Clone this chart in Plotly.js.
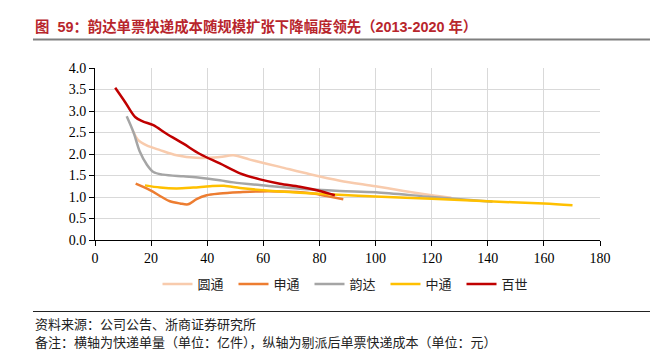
<!DOCTYPE html>
<html>
<head>
<meta charset="utf-8">
<script src="https://cdn.plot.ly/plotly-3.0.1.min.js"></script>
<style>html,body{margin:0;padding:0;background:#fff;}#chart{width:656px;height:351px;}</style>
</head>
<body>
<div id="chart"></div>
<script>
// 圆通
const ytoX = [13.4, 15.4, 18.4, 23.2, 29.1, 36.2, 44.5, 49.3, 55.2, 65.9, 76.6, 87.3, 100, 110, 120, 127];
const ytoY = [2.55, 2.32, 2.2, 2.09, 1.97, 1.91, 1.93, 1.97, 1.87, 1.70, 1.53, 1.38, 1.25, 1.14, 1.04, 0.98];
// 申通
const stoX = [14.5, 19.6, 23.8, 26.7, 30.3, 33.2, 36.2, 39.8, 44.5, 51.7, 58.8, 69.5, 77.8, 82.6, 88.5];
const stoY = [1.31, 1.16, 1.0, 0.9, 0.85, 0.83, 0.95, 1.04, 1.08, 1.11, 1.13, 1.12, 1.08, 1.02, 0.95];
// 韵达
const ydX = [11.3, 13.7, 16, 18.4, 20.8, 24.3, 31.5, 37.4, 44.5, 49.3, 61.2, 73, 87.3, 100, 120, 141.7];
const ydY = [2.88, 2.51, 2.05, 1.76, 1.58, 1.52, 1.48, 1.45, 1.39, 1.34, 1.26, 1.19, 1.14, 1.11, 1.0, 0.89];
// 中通
const ztoX = [17.8, 23.2, 29.1, 35, 41, 46, 51.7, 61.2, 73, 84.9, 100, 120, 140, 160, 170.2];
const ztoY = [1.27, 1.22, 1.2, 1.22, 1.25, 1.26, 1.21, 1.15, 1.1, 1.06, 1.01, 0.96, 0.9, 0.85, 0.81];
// 百世
const bsX = [7.2, 10.7, 14.3, 17, 20.8, 25.5, 31.5, 37.4, 44.5, 51.7, 58.8, 65.9, 73, 80.2, 85.5];
const bsY = [3.54, 3.21, 2.86, 2.76, 2.67, 2.47, 2.24, 2.0, 1.78, 1.55, 1.41, 1.31, 1.24, 1.14, 1.04];

const seriesNames = ['圆通', '申通', '韵达', '中通', '百世'];
const xTicks = [0, 20, 40, 60, 80, 100, 120, 140, 160, 180];
const yTicks = [0, 0.5, 1.0, 1.5, 2.0, 2.5, 3.0, 3.5, 4.0];

const titleText = '图  59：韵达单票快递成本随规模扩张下降幅度领先（2013-2020 年）';
const sourceText = '资料来源：公司公告、浙商证券研究所';
const noteText = '备注：横轴为快递单量（单位：亿件），纵轴为剔派后单票快递成本（单位：元）';

const colors = ['#F8CBAD', '#ED7D31', '#A5A5A5', '#FFC000', '#C00000'];
const xs = [ytoX, stoX, ydX, ztoX, bsX];
const ys = [ytoY, stoY, ydY, ztoY, bsY];

const traces = seriesNames.map((n, i) => ({
  type: 'scatter', mode: 'lines', name: n, x: xs[i], y: ys[i],
  line: {color: colors[i], width: 2.5, shape: 'spline', smoothing: 0.9}
}));

const layout = {
  width: 656, height: 351,
  margin: {l: 95, r: 56, t: 68, b: 111},
  paper_bgcolor: '#fff', plot_bgcolor: '#fff',
  showlegend: true,
  legend: {orientation: 'h', x: 0.5, xanchor: 'center', y: -0.256, yanchor: 'middle',
    font: {family: 'Noto Sans CJK SC', size: 13, color: '#222'}, itemwidth: 30,
    entrywidth: 31, entrywidthmode: 'pixels', bgcolor: 'rgba(0,0,0,0)'},
  xaxis: {range: [0, 180], tickvals: xTicks, ticktext: xTicks.map(String), showgrid: true, gridcolor: '#d9d9d9', gridwidth: 1,
    zeroline: false, showline: true, linecolor: '#000', linewidth: 1, ticks: 'outside', ticklen: 5, tickcolor: '#000',
    tickfont: {family: 'Liberation Serif', size: 14, color: '#000'}, fixedrange: true},
  yaxis: {range: [0, 4], tickvals: yTicks, ticktext: yTicks.map(v => v.toFixed(1)), showgrid: true, gridcolor: '#d9d9d9', gridwidth: 1,
    zeroline: false, showline: true, linecolor: '#000', linewidth: 1, ticks: 'outside', ticklen: 5, tickcolor: '#000',
    tickfont: {family: 'Liberation Serif', size: 14, color: '#000'}, fixedrange: true},
  shapes: [
    {type: 'line', xref: 'paper', yref: 'paper', x0: -0.1228, x1: 1.099, y0: 1.166, y1: 1.166, line: {color: '#7f7f7f', width: 2}},
    {type: 'line', xref: 'paper', yref: 'paper', x0: -0.1228, x1: 1.099, y0: -0.4157, y1: -0.4157, line: {color: '#222', width: 1}}
  ],
  annotations: [
    {xref: 'paper', yref: 'paper', x: -0.1228, y: 1.244, xanchor: 'left', yanchor: 'middle', showarrow: false,
      text: '<b>' + titleText + '</b>', font: {family: 'Liberation Sans, Noto Sans CJK SC', size: 14.4, color: '#B8262C'}},
    {xref: 'paper', yref: 'paper', x: -0.1228, y: -0.4826, xanchor: 'left', yanchor: 'middle', showarrow: false,
      text: sourceText, font: {family: 'Noto Sans CJK SC', size: 13, color: '#222'}},
    {xref: 'paper', yref: 'paper', x: -0.1228, y: -0.59, xanchor: 'left', yanchor: 'middle', showarrow: false,
      text: noteText, font: {family: 'Noto Sans CJK SC', size: 13, color: '#222'}}
  ]
};

Plotly.newPlot('chart', traces, layout, {staticPlot: true, displayModeBar: false});
</script>
</body>
</html>
